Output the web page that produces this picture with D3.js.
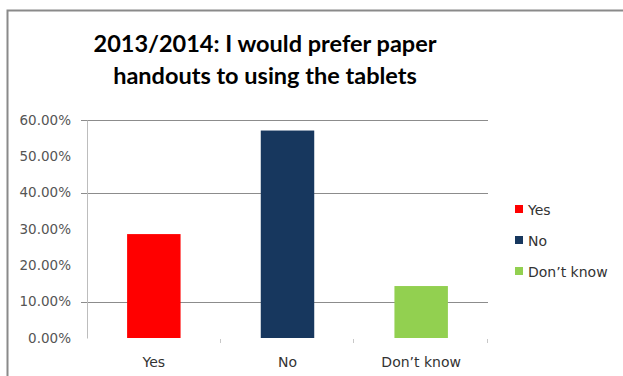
<!DOCTYPE html>
<html>
<head>
<meta charset="utf-8">
<script src="https://cdn.jsdelivr.net/npm/d3@7"></script>
<style>
  body { margin: 0; background: #fff; }
  text { font-family: "DejaVu Sans", sans-serif; }
</style>
</head>
<body>
<svg id="chart"></svg>
<script>
// chart data
const categories = ["Yes", "No", "Don\u2019t know"];
const values = [0.286, 0.571, 0.143];
const colors = ["#FF0000", "#17375E", "#92D050"];
const yTicks = [0, 0.1, 0.2, 0.3, 0.4, 0.5, 0.6];
const gridValues = [0.6, 0.4, 0.1]; // only these lines survive in the picture
const titleLines = ["2013/2014: I would prefer paper", "handouts to using the tablets"];

const width = 623, height = 376;
const margin = { top: 120, right: 135, bottom: 38, left: 87 };

const svg = d3.select("#chart").attr("width", width).attr("height", height);

// outer chart frame
svg.append("rect")
  .attr("x", 7.5).attr("y", 10.5)
  .attr("width", width + 10).attr("height", height + 10)
  .attr("fill", "none")
  .attr("stroke", "#8a8a8a")
  .attr("stroke-width", 2);

// title
svg.append("text")
  .attr("x", 265)
  .attr("y", 52)
  .attr("text-anchor", "middle")
  .style("font-family", "Lato, 'Open Sans', sans-serif")
  .style("font-weight", "bold")
  .style("font-size", "23.5px")
  .style("fill", "#000")
  .selectAll("tspan")
  .data(titleLines)
  .join("tspan")
  .attr("x", 265)
  .attr("dy", (d, i) => i === 0 ? 0 : 32)
  .text(d => d);

const innerW = width - margin.left - margin.right;
const innerH = height - margin.top - margin.bottom;

const chart = svg.append("g")
  .attr("transform", `translate(${margin.left},${margin.top})`);

const xScale = d3.scaleBand().domain(categories).range([0, innerW]).paddingInner(0.6).paddingOuter(0.3);
const xBand = d3.scaleBand().domain(categories).range([0, innerW]);
const yScale = d3.scaleLinear().domain([0, 0.6]).range([innerH, 0]);

// gridlines
chart.selectAll(".grid")
  .data(gridValues)
  .join("line")
  .attr("class", "grid")
  .attr("x1", -6).attr("x2", innerW)
  .attr("y1", d => Math.round(yScale(d)) + 0.5)
  .attr("y2", d => Math.round(yScale(d)) + 0.5)
  .attr("stroke", "#8c8c8c")
  .attr("stroke-width", 1);

// y axis
const yAxis = d3.axisLeft(yScale)
  .tickValues(yTicks)
  .tickFormat(d3.format(".2%"))
  .tickSize(0)
  .tickPadding(16);
const yAxisG = chart.append("g").call(yAxis);
yAxisG.select(".domain").attr("stroke", "#bdbdbd");
yAxisG.selectAll("text")
  .style("font-family", "'DejaVu Sans', sans-serif")
  .style("font-size", "13.5px")
  .style("fill", "#555");

// bars
chart.selectAll(".bar")
  .data(values)
  .join("rect")
  .attr("class", "bar")
  .attr("x", (d, i) => xScale(categories[i]))
  .attr("y", d => yScale(d))
  .attr("width", xScale.bandwidth())
  .attr("height", d => innerH - yScale(d))
  .attr("fill", (d, i) => colors[i]);

// x tick marks at category boundaries
chart.selectAll(".xtick")
  .data(categories)
  .join("line")
  .attr("class", "xtick")
  .attr("x1", d => Math.round(xBand(d) + xBand.bandwidth()) - 0.5)
  .attr("x2", d => Math.round(xBand(d) + xBand.bandwidth()) - 0.5)
  .attr("y1", innerH + 1).attr("y2", innerH + 5)
  .attr("stroke", "#c8c8c8");

// x labels
chart.selectAll(".xlabel")
  .data(categories)
  .join("text")
  .attr("class", "xlabel")
  .attr("x", d => xBand(d) + xBand.bandwidth() / 2)
  .attr("y", innerH + 29)
  .attr("text-anchor", "middle")
  .style("font-size", "14px")
  .style("fill", "#333")
  .text(d => d);

// legend
const legend = svg.append("g").attr("transform", "translate(515,205)");
const legendItems = legend.selectAll(".legend-item")
  .data(categories)
  .join("g")
  .attr("class", "legend-item")
  .attr("transform", (d, i) => `translate(0, ${i * 31})`);
legendItems.append("rect")
  .attr("width", 8).attr("height", 8)
  .attr("fill", (d, i) => colors[i]);
legendItems.append("text")
  .attr("x", 13).attr("y", 10)
  .style("font-size", "14px")
  .style("fill", "#333")
  .text(d => d);
</script>
</body>
</html>
